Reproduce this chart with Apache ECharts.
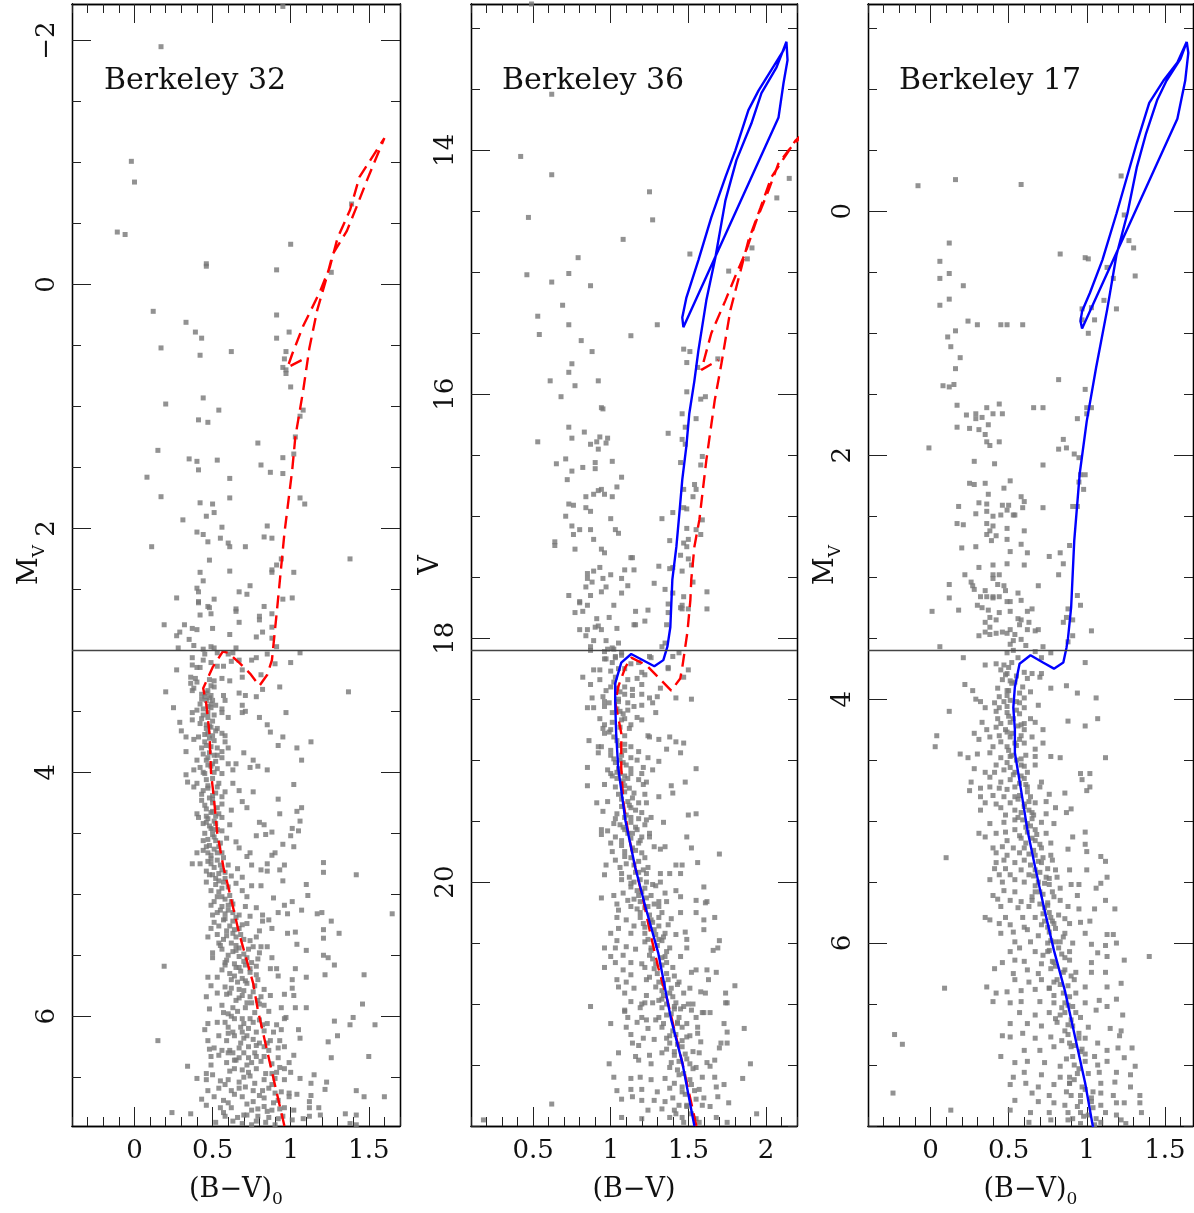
<!DOCTYPE html>
<html><head><meta charset="utf-8">
<script src="https://cdn.jsdelivr.net/npm/echarts@6/dist/echarts.min.js"></script>
<style>html,body{margin:0;padding:0;background:#fff}#c{width:1194px;height:1213px}</style>
</head><body><div id="c"></div>
<script>
// ---------------- DATA ----------------
const panelNames = ['Berkeley 32', 'Berkeley 36', 'Berkeley 17'];
const xRanges = [[-0.4, 1.7], [0.1, 2.2], [-0.4, 1.68]];
const yRanges = [[-2.3, 6.9], [12.8, 22.0], [-1.7, 7.5]];
const xMajorTicks = [[0, 0.5, 1, 1.5], [0.5, 1, 1.5, 2], [0, 0.5, 1, 1.5]];
const yMajorTicks = [[-2, 0, 2, 4, 6], [14, 16, 18, 20], [0, 2, 4, 6]];
const cutLines = [3.0, 18.1, 3.6];
const xAxisTitles = [['(B−V)', '0'], ['(B−V)', ''], ['(B−V)', '0']];
const yAxisTitles = [['M', 'V'], ['V', ''], ['M', 'V']];

// Berkeley 32 stars (B-V)0 , Mv
const ber32Stars = [
[0.95,-2.28],[0.17,-1.95],[-0.02,-1.01],[0.0,-0.84],[-0.11,-0.43],[-0.06,-0.41],[0.46,-0.17],[0.46,-0.15],[0.91,-0.12],[1.0,-0.33],[1.26,-0.10],[1.39,-0.66],
[0.12,0.22],[0.91,0.25],[0.33,0.31],[0.39,0.39],[0.43,0.44],[0.91,0.44],[0.99,0.39],[0.17,0.52],[0.42,0.58],[0.62,0.55],[0.97,0.55],[0.96,0.61],[0.95,0.68],[0.97,0.70],[0.97,0.73],[1.0,0.84],[0.44,0.93],[0.20,0.98],[0.54,1.03],[0.41,1.11],[0.47,1.13],[1.08,1.03],[1.06,1.08],[1.03,1.25],[0.79,1.30],[0.15,1.36],[0.35,1.43],[0.40,1.45],[0.53,1.44],[1.02,1.39],[0.95,1.42],[0.41,1.52],[0.81,1.48],[0.87,1.54],[0.95,1.55],[0.08,1.58],[0.61,1.59],[0.17,1.74],[0.61,1.75],[0.42,1.79],[0.50,1.80],[1.06,1.75],[1.09,1.80],[0.51,1.87],[0.46,1.90],[0.31,1.93],[0.56,1.99],[0.40,2.03],[0.44,2.05],[0.85,1.98],[0.83,2.07],[0.88,2.08],[0.55,2.08],[0.11,2.15],[0.47,2.11],[0.60,2.12],[0.61,2.15],[0.71,2.15],[1.38,2.25],[0.48,2.26],[0.94,2.25],[0.91,2.30],[0.42,2.36],[0.61,2.35],[0.88,2.34],[0.88,2.36],[1.02,2.36],[0.44,2.43],[0.74,2.47],[0.40,2.49],[0.41,2.52],[0.67,2.52],[0.72,2.54],[0.27,2.57],[0.41,2.60],[0.51,2.58],[0.95,2.58],[1.01,2.57],[0.47,2.64],[0.65,2.66],[0.83,2.64],
[0.41,2.61],[0.48,2.65],[0.65,2.68],[0.42,2.71],[0.49,2.70],[0.80,2.72],[0.88,2.70],[0.19,2.79],[0.32,2.79],[0.67,2.77],[0.80,2.75],[0.37,2.82],[0.40,2.83],[0.50,2.82],[0.88,2.81],[0.27,2.88],[0.29,2.85],[0.61,2.87],[0.78,2.89],[0.82,2.85],[0.35,2.91],[0.88,2.90],[0.38,2.96],[0.28,2.98],[0.44,2.99],[0.49,2.97],[0.51,2.98],[0.65,2.98],[0.91,2.97],
[1.06,3.02],[0.45,3.03],[0.53,3.02],[0.60,3.03],[0.63,3.02],[0.37,3.06],[0.44,3.08],[0.49,3.10],[0.62,3.09],[0.67,3.08],[0.75,3.08],[0.78,3.06],[0.85,3.03],[0.90,3.11],[1.0,3.10],[0.37,3.12],[0.40,3.14],[0.42,3.14],[0.27,3.16],[0.53,3.13],[0.57,3.13],[0.69,3.16],[0.36,3.22],[0.39,3.23],[0.48,3.24],[0.51,3.25],[0.56,3.23],[0.61,3.25],[0.69,3.22],[0.81,3.20],[0.36,3.27],[0.40,3.26],[0.49,3.29],[0.51,3.30],[0.37,3.33],[0.38,3.31],[0.47,3.33],[0.20,3.34],[0.82,3.32],[0.93,3.30],[1.37,3.34],[0.46,3.35],[0.49,3.37],[0.57,3.37],[0.67,3.35],[0.71,3.37],[0.78,3.38],[0.43,3.40],[0.46,3.41],[0.50,3.41],[0.58,3.41],[0.42,3.44],[0.49,3.44],[0.69,3.45],[0.25,3.47],[0.49,3.47],[0.56,3.48],[0.69,3.51],[0.71,3.50],[0.97,3.51],[0.37,3.51],[0.40,3.49],[0.47,3.51],[0.56,3.51],[0.60,3.55],[0.80,3.55],[0.37,3.57],[0.43,3.56],[0.46,3.61],[0.29,3.59],[0.85,3.61],[0.49,3.63],[0.53,3.64],[0.46,3.64],[0.87,3.67],[0.30,3.66],[0.47,3.68],[0.56,3.68],[0.95,3.71],[1.13,3.75],[0.33,3.71],[0.38,3.73],[0.41,3.71],[0.48,3.72],[0.58,3.70],[0.58,3.75],[0.46,3.78],[0.92,3.78],[1.04,3.80],[0.33,3.83],[0.53,3.80],[0.56,3.83],[0.60,3.80],[0.48,3.84],[0.53,3.86],[0.70,3.84],[0.56,3.88],[0.46,3.90],[0.76,3.90],[1.07,3.90],[0.40,3.90],[0.50,3.93],[0.60,3.93],[0.65,3.93],[0.38,3.98],[0.53,3.97],[0.63,3.98],[0.74,3.96],[0.79,3.95],[0.85,3.98],[0.33,4.02],[0.44,4.0],[0.56,4.01],[0.34,4.08],[0.40,4.09],[0.47,4.11],[0.54,4.09],[0.63,4.09],[1.02,4.10],[0.38,4.12],[0.44,4.15],[0.58,4.16],[0.67,4.15],[0.76,4.16],[0.50,4.19],[0.56,4.20],[0.69,4.24],[0.92,4.22],[0.43,4.23],[0.50,4.25],[0.56,4.26],[0.72,4.29],[1.07,4.29],[1.04,4.32],[0.40,4.34],[0.50,4.32],[0.54,4.34],[0.62,4.31],[0.93,4.34],[0.41,4.37],[0.47,4.38],[0.56,4.37],[0.80,4.41],[0.83,4.43],[1.06,4.40],[0.46,4.41],[0.52,4.42],[0.61,4.43],[0.49,4.46],[0.56,4.48],[0.88,4.49],[1.05,4.48],[1.01,4.46],[0.78,4.52],[0.84,4.51],[1.0,4.52],[0.44,4.56],[0.51,4.53],[0.59,4.54],[0.65,4.57],[0.95,4.59],[1.02,4.61],[0.46,4.61],[0.54,4.61],[0.67,4.62],[0.40,4.66],[0.47,4.66],[0.56,4.66],[0.74,4.66],[0.90,4.66],[0.88,4.68],[0.72,4.69],[0.49,4.71],[0.37,4.75],[0.42,4.75],[0.49,4.75],[0.60,4.76],[0.75,4.76],[0.85,4.75],[1.21,4.74],[0.96,4.76],[0.46,4.81],[0.56,4.80],[0.66,4.79],[0.81,4.80],[0.85,4.81],[0.93,4.80],[1.21,4.82],[1.42,4.84],[0.48,4.84],[0.62,4.85],[0.69,4.86],[0.54,4.89],[0.46,4.90],[0.95,4.89],[0.65,4.91],[0.75,4.93],[0.81,4.93],[1.10,4.92],[0.56,4.95],[0.69,4.97],[1.11,5.01],[0.53,5.02],[0.61,5.01],[0.72,5.02],[0.89,5.03],[0.49,5.09],[0.56,5.10],[0.63,5.08],[0.71,5.10],[0.78,5.11],[1.01,5.06],[0.96,5.09],[1.07,5.13],[0.92,5.15],[0.98,5.16],[1.17,5.16],[1.20,5.15],[1.65,5.16],[0.50,5.17],[0.58,5.16],[0.67,5.17],[0.74,5.18],[0.82,5.17],[0.86,5.21],[0.51,5.23],[0.63,5.22],[0.72,5.24],[0.82,5.22],[1.26,5.22],[0.49,5.28],[0.59,5.30],[0.67,5.28],[0.80,5.30],[0.88,5.28],[0.98,5.32],[1.03,5.31],[1.21,5.29],[1.31,5.32],[0.47,5.35],[0.53,5.33],[0.65,5.35],[0.74,5.38],[0.78,5.35],[1.21,5.36],[0.54,5.40],[0.65,5.42],[0.76,5.43],[0.81,5.43],[0.85,5.43],[1.04,5.41],[0.56,5.45],[0.65,5.46],[0.80,5.48],[1.10,5.46],[0.50,5.48],[0.50,5.52],[0.59,5.54],[0.67,5.51],[0.72,5.52],[0.79,5.53],[0.88,5.52],[1.21,5.50],[1.24,5.52],[0.19,5.59],[0.58,5.58],[0.65,5.60],[0.71,5.58],[0.78,5.59],[0.87,5.61],[0.91,5.61],[1.28,5.58],[1.03,5.61],[0.56,5.62],[0.47,5.68],[0.53,5.68],[0.64,5.67],[0.69,5.69],[0.78,5.66],[0.92,5.67],[1.10,5.68],[1.22,5.66],[1.47,5.66],[1.01,5.70],[0.49,5.75],[0.58,5.76],[0.67,5.78],[0.72,5.73],[0.83,5.78],[1.01,5.77],[0.53,5.81],[0.61,5.81],[0.87,5.83],[0.96,5.82],[1.02,5.83],[0.46,5.84],[0.67,5.85],[0.74,5.84],[0.79,5.87],[0.48,5.94],[0.56,5.91],[0.63,5.93],[0.83,5.91],[0.94,5.93],[1.03,5.93],[1.10,5.93],[1.46,5.90],[1.40,6.01],[0.97,6.01],[0.60,5.98],[0.69,6.02],[1.28,6.04],
[0.57,5.97],[0.71,5.93],[0.75,5.89],[0.47,6.06],[0.53,6.05],[0.58,6.05],[0.64,6.02],[0.70,6.06],[0.76,6.05],[0.85,6.06],[0.91,6.07],[0.96,6.02],[1.38,6.07],[1.54,6.07],[0.45,6.11],[0.60,6.14],[0.64,6.16],[0.69,6.13],[0.73,6.10],[0.78,6.13],[0.89,6.13],[0.94,6.11],[1.05,6.11],[1.30,6.16],[0.15,6.20],[0.47,6.20],[0.54,6.16],[0.59,6.20],[0.70,6.18],[0.87,6.20],[0.93,6.20],[1.06,6.18],[1.24,6.21],[0.48,6.27],[0.51,6.26],[0.56,6.28],[0.61,6.28],[0.67,6.26],[0.73,6.25],[0.78,6.24],[0.83,6.25],[0.92,6.26],[0.96,6.25],[0.49,6.33],[0.54,6.32],[0.60,6.30],[0.67,6.34],[0.73,6.34],[0.77,6.30],[0.83,6.33],[0.92,6.34],[1.02,6.32],[1.26,6.34],[1.50,6.33],[0.34,6.41],[0.49,6.40],[0.59,6.38],[0.64,6.36],[0.75,6.38],[0.88,6.39],[0.99,6.38],[0.46,6.47],[0.50,6.48],[0.64,6.43],[0.73,6.46],[0.78,6.43],[0.91,6.46],[0.96,6.43],[1.0,6.46],[1.15,6.48],[0.40,6.51],[0.46,6.52],[0.55,6.53],[0.60,6.52],[0.67,6.54],[0.70,6.50],[0.83,6.52],[0.90,6.51],[0.96,6.52],[1.06,6.51],[1.13,6.55],[1.23,6.54],[0.47,6.61],[0.54,6.59],[0.62,6.61],[0.67,6.59],[0.76,6.61],[0.86,6.59],[0.94,6.62],[0.99,6.63],[1.04,6.64],[1.13,6.65],[1.22,6.60],[1.42,6.61],[1.60,6.66],[0.43,6.68],[0.51,6.66],[0.57,6.69],[0.76,6.70],[0.83,6.67],[0.89,6.71],[0.99,6.66],[1.12,6.70],[1.47,6.66],[0.46,6.73],[0.62,6.75],[0.75,6.77],[0.83,6.74],[0.88,6.77],[0.96,6.75],[1.02,6.77],[1.12,6.75],[1.18,6.75],[0.24,6.79],[0.36,6.80],[0.57,6.79],[0.58,6.82],[0.70,6.81],[0.79,6.82],[0.86,6.83],[0.92,6.84],[1.01,6.85],[1.08,6.84],[1.12,6.82],[1.19,6.81],[1.35,6.80],[1.42,6.81],[0.75,6.89],[0.90,6.89],[1.38,6.88],[1.42,6.89]
];
// Berkeley 32: extra stars estimated in the crowded main-sequence band
const ber32StarsCore = [
[0.45,3.38],[0.47,3.46],[0.44,3.53],[0.50,3.58],[0.48,3.62],[0.45,3.69],[0.51,3.74],[0.49,3.79],[0.44,3.85],[0.47,3.88],[0.52,3.91],[0.49,3.95],[0.45,4.01],[0.50,4.05],[0.47,4.13],[0.52,4.17],[0.48,4.21],[0.45,4.27],[0.53,4.29],[0.49,4.33],[0.46,4.36],[0.51,4.40],[0.48,4.44],[0.53,4.47],[0.50,4.51],[0.47,4.55],[0.55,4.58],[0.51,4.63],[0.49,4.68],[0.53,4.72],[0.57,4.70],[0.51,4.78],[0.54,4.83],[0.58,4.82],[0.52,4.87],[0.57,4.90],[0.60,4.94],[0.54,4.98],[0.58,5.04],[0.62,5.06],[0.55,5.13],[0.60,5.13],[0.65,5.19],[0.57,5.21],[0.61,5.26],[0.69,5.25],[0.63,5.32],[0.57,5.37],[0.70,5.37],[0.62,5.40],[0.67,5.44],[0.73,5.45],[0.60,5.50],[0.70,5.55],[0.64,5.57],[0.75,5.56],[0.68,5.63],[0.61,5.65],[0.74,5.64],[0.79,5.70],[0.66,5.72],[0.70,5.79],[0.62,5.77],[0.76,5.80],[0.81,5.84],[0.65,5.87],[0.72,5.89],[0.77,5.97],[0.86,5.96],[0.62,6.0],[0.80,6.03],[0.68,6.09],[0.83,6.12],[0.72,6.16],[0.63,6.13],[0.80,6.22],[0.86,6.28],[0.70,6.30],[0.65,6.36],[0.81,6.37],[0.72,6.40],[0.93,6.42],[0.61,6.45],[0.84,6.47],[0.77,6.55],[0.71,6.58],[0.88,6.56],[0.64,6.64],[0.80,6.65],[0.92,6.69],[0.72,6.72],[0.55,6.75],[0.85,6.78],[0.66,6.83],[0.78,6.86],[0.95,6.82],[0.52,6.87],[0.69,6.88],
[0.43,3.36],[0.48,3.39],[0.52,3.45],[0.44,3.48],[0.47,3.55],[0.51,3.53],[0.42,3.60],[0.52,3.66],[0.45,3.75],[0.50,3.70],[0.43,3.80],[0.51,3.86],[0.47,3.94],[0.42,3.96],[0.51,4.00],[0.46,4.06],[0.53,4.12],[0.43,4.18],[0.50,4.22],[0.46,4.30],[0.52,4.36],[0.44,4.42],[0.50,4.47],[0.45,4.50],[0.52,4.56],[0.48,4.60],[0.44,4.64],[0.53,4.66],[0.47,4.73],[0.55,4.76],[0.50,4.84],[0.58,4.87],[0.52,4.92],[0.49,4.97],[0.56,5.02],[0.51,5.06],[0.60,5.09],[0.53,5.15],[0.63,5.15],[0.58,5.20],[0.54,5.26],[0.64,5.29],[0.59,5.34],[0.68,5.33],[0.55,5.42],[0.63,5.47],[0.70,5.49],[0.58,5.56],[0.67,5.60],[0.74,5.61],[0.62,5.70],[0.71,5.71],[0.77,5.75],[0.59,5.82],[0.69,5.83],[0.80,5.90],[0.66,5.96],[0.74,6.02],[0.82,6.07],[0.60,6.09],[0.76,6.19],[0.68,6.22],[0.85,6.22],[0.63,6.30],[0.78,6.33],[0.69,6.44],[0.88,6.47],[0.74,6.49],[0.58,6.56],[0.82,6.61],[0.69,6.66],[0.90,6.63],[0.60,6.71],[0.79,6.76],[0.93,6.76],[0.72,6.81],[0.63,6.86],[0.84,6.87]
];

// Berkeley 36 stars (B-V) , V
const ber36Stars = [
[0.49,12.80],[0.62,13.54],[0.42,14.05],[0.62,14.20],[1.25,14.34],[0.47,14.55],[1.27,14.57],[1.08,14.73],[1.51,14.85],[0.79,14.88],[2.15,14.23],[2.07,14.39],[1.91,14.80],[1.88,14.89],[1.76,14.99],[0.46,15.02],[0.73,15.01],[0.62,15.08],[0.87,15.11],[0.69,15.27],[0.53,15.36],[0.73,15.43],[1.30,15.43],[0.54,15.51],[1.13,15.52],[0.81,15.56],[0.88,15.65],[1.47,15.63],[1.51,15.65],[0.75,15.75],[1.49,15.74],[1.56,15.78],[1.69,15.71],[0.73,15.82],[0.61,15.89],[0.92,15.89],[0.77,15.93],[1.49,15.98],[0.68,16.02],[1.58,16.04],[1.61,16.02],[0.94,16.11],[0.95,16.12],[1.46,16.16],[1.55,16.20],
[0.73,16.27],[0.83,16.31],[1.37,16.32],[0.53,16.39],[0.75,16.36],[0.87,16.41],[0.91,16.39],[0.93,16.35],[0.98,16.36],[0.97,16.40],[0.92,16.45],[1.46,16.37],[1.48,16.27],[1.48,16.41],[0.71,16.53],[0.65,16.57],[0.82,16.60],[0.90,16.56],[0.90,16.61],[1.01,16.55],[1.45,16.56],[1.58,16.58],[1.59,16.51],[0.75,16.63],[1.07,16.68],[0.72,16.70],[1.04,16.76],[1.54,16.74],[1.55,16.78],[1.47,16.78],[0.92,16.79],[0.94,16.78],[0.89,16.82],[0.96,16.82],[0.84,16.84],[1.01,16.84],[1.53,16.84],[0.73,16.90],[0.76,16.91],[0.84,16.93],[0.87,16.96],[1.40,16.97],[1.47,16.93],[1.49,16.94],[0.71,17.00],[1.33,17.02],[1.0,17.02],[1.59,17.03],[0.75,17.08],[0.80,17.11],[0.87,17.11],[1.03,17.11],[1.05,17.14],[0.76,17.15],[1.49,17.10],[1.55,17.11],[1.58,17.15],[0.89,17.19],[1.38,17.20],[1.50,17.19],[0.64,17.21],[0.64,17.24],[1.47,17.22],[1.49,17.25],[0.77,17.27],[0.94,17.27],[0.96,17.30],[1.45,17.32],[1.13,17.34],[1.14,17.34],[1.50,17.35],[1.52,17.40],[0.93,17.42],[1.31,17.41],[1.40,17.42],[1.38,17.43],[1.09,17.44],[1.15,17.44],[0.89,17.45],[0.85,17.47],[1.46,17.45],[1.0,17.48],[0.85,17.51],[0.95,17.51],[1.07,17.51],[0.88,17.54],[1.28,17.55],[1.53,17.54],[1.11,17.57],[0.84,17.58],[0.97,17.58],[0.94,17.62],[1.35,17.60],[1.62,17.62],[0.73,17.65],[0.87,17.65],[1.07,17.63],[1.40,17.63],[1.47,17.66],[0.80,17.70],[1.37,17.72],[0.85,17.73],[1.02,17.73],[1.46,17.73],[1.46,17.76],[1.50,17.76],[1.62,17.76],[0.77,17.79],[0.82,17.78],[1.16,17.78],[1.24,17.77],[1.37,17.79],[0.91,17.84],[0.99,17.83],[1.22,17.86],[0.90,17.91],[0.92,17.90],[0.94,17.93],[1.04,17.92],[1.15,17.89],[1.16,17.89],[0.80,17.93],[0.85,17.93],[1.36,17.89],[0.84,17.98],[0.89,18.02],[0.97,18.02],[1.05,18.04],[1.35,18.04],[1.33,18.07],[0.87,18.10],[0.98,18.09],[1.01,18.08],[0.87,18.07],[1.45,17.75],[0.80,17.71],
[1.03,18.15],[1.07,18.14],[1.25,18.15],[1.40,18.15],[1.44,18.12],[0.97,18.17],[1.01,18.20],[1.13,18.21],[1.18,18.20],[1.37,18.24],
[0.96,18.11],[1.02,18.09],[1.07,18.12],[1.26,18.16],[0.96,18.17],[1.03,18.16],[1.05,18.25],[0.89,18.26],[0.93,18.26],[1.0,18.27],[1.09,18.25],[1.20,18.28],[1.37,18.25],[1.50,18.26],[0.82,18.32],[0.93,18.34],[1.03,18.32],[1.11,18.34],[1.17,18.33],[1.22,18.30],[1.47,18.32],[0.87,18.38],[0.97,18.43],[1.04,18.41],[1.09,18.40],[1.14,18.42],[1.20,18.38],[1.32,18.41],[1.09,18.46],[1.14,18.47],[1.20,18.46],[1.25,18.49],[1.30,18.48],[1.42,18.49],[1.52,18.50],[0.88,18.49],[0.95,18.48],[1.05,18.50],[0.96,18.52],[0.85,18.57],[0.89,18.57],[0.96,18.56],[1.11,18.53],[1.15,18.56],[1.20,18.55],[1.27,18.53],[1.29,18.61],[1.06,18.60],[1.11,18.59],[1.09,18.66],[1.17,18.65],[1.20,18.67],[0.93,18.66],[0.96,18.71],[0.95,18.74],[1.0,18.75],[1.13,18.71],[1.12,18.74],[0.96,18.78],[1.02,18.81],[1.09,18.80],[1.24,18.80],[1.25,18.81],[1.31,18.83],[1.38,18.81],[1.42,18.85],[1.47,18.86],[0.86,18.84],[0.92,18.89],[0.94,18.89],[1.09,18.87],[1.13,18.89],[1.18,18.93],[1.36,18.91],[0.92,18.94],[1.0,18.96],[1.07,18.96],[1.13,18.98],[1.24,18.98],[1.45,18.94],[1.03,19.02],[1.08,19.02],[1.17,19.0],[1.31,19.01],[0.85,19.06],[0.98,19.08],[1.05,19.07],[1.13,19.07],[1.21,19.06],[1.27,19.08],[1.55,19.07],[1.0,19.11],[1.06,19.11],[1.13,19.11],[1.20,19.11],[1.04,19.15],[1.11,19.15],[1.18,19.16],[1.23,19.18],[1.48,19.18],[0.85,19.21],[0.96,19.20],[1.09,19.21],[1.21,19.20],[1.39,19.21],[1.09,19.26],[1.15,19.27],[1.22,19.28],[1.40,19.27],[1.31,19.30],[0.91,19.35],[0.98,19.34],[1.11,19.34],[1.18,19.35],[1.23,19.35],[0.95,19.42],[1.13,19.39],[1.20,19.43],[1.50,19.45],[1.55,19.44],[1.03,19.48],[1.09,19.47],[1.18,19.48],[1.23,19.49],[1.26,19.47],[1.02,19.52],[1.13,19.51],[1.22,19.53],[1.34,19.51],[0.94,19.57],[0.98,19.58],[1.09,19.57],[1.17,19.57],[1.25,19.60],[0.94,19.61],[1.03,19.63],[1.13,19.64],[1.20,19.63],[1.25,19.63],[1.49,19.63],[1.0,19.68],[1.07,19.70],[1.18,19.68],[1.28,19.71],[1.35,19.71],[1.52,19.72],[1.01,19.75],[1.09,19.75],[1.20,19.76],[1.32,19.73],[1.70,19.77],[1.13,19.80],[1.22,19.80],[1.03,19.82],[1.56,19.84],[0.97,19.86],[1.06,19.88],[1.15,19.86],[1.24,19.88],[1.42,19.86],[1.46,19.86],[0.96,19.94],[1.07,19.93],[1.16,19.92],[1.23,19.93],[1.32,19.93],[1.38,19.93],[1.45,19.93],[1.07,19.98],[1.15,20.0],[1.23,20.0],[1.32,20.0],[1.13,20.04],[1.22,20.05],[1.29,20.03],[1.60,20.04],[0.94,20.13],[1.02,20.11],[1.08,20.09],[1.18,20.11],[1.26,20.11],[1.35,20.09],[1.42,20.07],[1.45,20.12],[1.11,20.15],[1.19,20.16],[1.31,20.16],[1.36,20.16],[1.55,20.15],[1.62,20.16],[1.04,20.18],[1.13,20.20],[1.22,20.21],[1.31,20.20],[1.61,20.17],[1.05,20.23],[1.19,20.25],[1.33,20.25],[1.45,20.25],[1.55,20.25],[1.67,20.29],[1.04,20.29],[1.10,20.31],[1.26,20.31],[1.39,20.30],[1.60,20.31],[1.05,20.38],[1.15,20.36],[1.22,20.37],[1.31,20.36],[1.37,20.35],[1.60,20.39],[1.0,20.42],[1.13,20.42],[1.29,20.43],[1.35,20.42],[1.42,20.43],[1.48,20.41],[1.04,20.48],[1.22,20.49],[1.33,20.48],[1.49,20.47],[1.70,20.48],[0.96,20.54],[1.03,20.54],[1.10,20.53],[1.16,20.55],[1.26,20.54],[1.38,20.54],[1.49,20.54],[1.66,20.56],[1.69,20.54],[1.0,20.61],[1.08,20.60],[1.25,20.60],[1.35,20.61],[1.45,20.61],[1.03,20.66],[1.13,20.66],[1.20,20.67],[1.29,20.67],[1.36,20.66],[0.96,20.70],[1.08,20.72],[1.22,20.70],[1.52,20.74],[1.55,20.72],[1.62,20.72],[1.68,20.74],[1.13,20.76],[1.25,20.78],[1.41,20.77],[1.04,20.80],[1.10,20.82],[1.23,20.80],[1.34,20.83],[1.44,20.82],[1.63,20.80],[1.80,20.85],[1.05,20.86],[1.15,20.87],[1.29,20.86],[1.39,20.87],[1.51,20.87],[1.58,20.90],[1.61,20.91],[1.74,20.91],[1.09,20.91],[1.23,20.93],[1.34,20.93],[1.47,20.91],[1.13,20.98],[1.22,20.99],[1.31,20.97],[1.42,20.99],[1.50,21.0],[1.74,20.99],[0.87,21.02],[1.09,21.05],[1.19,21.03],[1.33,21.03],[1.52,21.05],[1.60,21.07],[1.64,21.07],[1.11,21.11],[1.20,21.11],[1.31,21.11],[1.44,21.11],[1.55,21.11],
[1.20,21.0],[1.27,20.99],[1.41,21.02],[1.47,21.02],[1.53,21.0],[1.59,21.07],[1.75,20.99],[1.09,21.06],[1.17,21.15],[1.23,21.13],[1.29,21.13],[1.0,21.16],[1.10,21.19],[1.24,21.20],[1.33,21.19],[1.43,21.15],[1.49,21.16],[1.56,21.19],[1.73,21.16],[1.75,21.23],[1.86,21.20],[1.13,21.25],[1.21,21.28],[1.28,21.29],[1.36,21.28],[1.42,21.25],[1.49,21.27],[1.56,21.24],[1.14,21.32],[1.18,21.34],[1.38,21.32],[1.46,21.35],[1.58,21.31],[1.71,21.32],[1.75,21.32],[1.05,21.40],[1.16,21.43],[1.25,21.42],[1.33,21.40],[1.41,21.42],[1.53,21.39],[1.57,21.40],[1.70,21.36],[1.18,21.46],[1.39,21.48],[1.51,21.49],[1.62,21.48],[1.67,21.46],[0.99,21.49],[1.26,21.49],[1.38,21.52],[1.55,21.52],[1.64,21.51],[1.90,21.49],[1.02,21.60],[1.13,21.61],[1.19,21.60],[1.26,21.62],[1.35,21.61],[1.44,21.58],[1.59,21.60],[1.67,21.60],[1.85,21.61],[1.73,21.66],[1.04,21.71],[1.13,21.70],[1.20,21.70],[1.30,21.72],[1.38,21.69],[1.46,21.72],[1.57,21.70],[1.68,21.68],[1.07,21.78],[1.14,21.76],[1.20,21.79],[1.28,21.79],[1.35,21.80],[1.40,21.77],[1.60,21.77],[1.69,21.76],[0.62,21.82],[1.76,21.81],[1.24,21.87],[1.33,21.86],[1.41,21.87],[1.49,21.84],[1.59,21.83],[1.64,21.84],[1.07,21.93],[1.20,21.94],[1.38,21.93],[1.46,21.93],[1.57,21.97],[1.68,21.93],[1.75,21.97],[1.94,21.90],[0.18,21.95]
];
// Berkeley 36: extra stars estimated in the crowded main-sequence band
const ber36StarsCore = [
[1.02,18.36],[1.06,18.44],[0.99,18.53],[1.04,18.58],[1.08,18.62],[1.01,18.69],[1.06,18.73],[1.04,18.84],[1.09,18.92],[1.02,18.99],[1.10,19.04],[1.04,19.10],[1.08,19.17],[1.12,19.23],[1.05,19.28],[1.14,19.31],[1.07,19.38],[1.16,19.41],[1.10,19.45],[1.06,19.53],[1.16,19.55],[1.11,19.60],[1.19,19.66],[1.14,19.72],[1.09,19.79],[1.18,19.83],[1.21,19.90],[1.12,19.96],[1.19,19.98],[1.27,20.02],[1.17,20.07],[1.23,20.13],[1.28,20.18],[1.17,20.22],[1.25,20.27],[1.31,20.29],[1.21,20.34],[1.28,20.39],[1.34,20.45],[1.24,20.47],[1.30,20.52],[1.36,20.57],[1.27,20.63],[1.33,20.68],[1.40,20.70],[1.30,20.75],[1.37,20.80],[1.43,20.84],[1.33,20.89],[1.40,20.94],[1.36,21.0],[1.45,21.04],[1.39,21.08],[1.34,21.16],[1.46,21.19],[1.40,21.22],[1.51,21.26],[1.43,21.33],[1.36,21.37],[1.48,21.41],[1.44,21.47],[1.53,21.53],[1.47,21.57],[1.41,21.65],[1.52,21.66],[1.48,21.74],[1.55,21.78],[1.44,21.83],[1.52,21.90],[1.47,21.97],
[1.00,18.40],[1.05,18.52],[1.01,18.61],[1.07,18.67],[0.99,18.77],[1.05,18.88],[1.00,18.92],[1.06,19.00],[1.01,19.13],[1.09,19.13],[1.03,19.22],[1.07,19.32],[1.12,19.37],[1.04,19.44],[1.13,19.47],[1.08,19.55],[1.14,19.60],[1.07,19.66],[1.16,19.74],[1.10,19.85],[1.18,19.92],[1.13,20.01],[1.20,20.08],[1.15,20.14],[1.24,20.20],[1.19,20.29],[1.27,20.33],[1.22,20.42],[1.31,20.47],[1.26,20.56],[1.33,20.62],[1.28,20.71],[1.36,20.75],[1.31,20.82],[1.38,20.91],[1.33,20.96],[1.41,21.04],[1.36,21.09],[1.43,21.16],[1.38,21.26],[1.46,21.30],[1.41,21.39],[1.49,21.45],[1.43,21.54],[1.51,21.62],[1.46,21.68],[1.54,21.71],[1.49,21.83],[1.42,21.90],[1.55,21.94]
];

// Berkeley 17 stars (B-V)0 , Mv
const ber17Stars = [
[-0.08,-0.21],[0.16,-0.26],[0.58,-0.22],[1.22,-0.29],[1.24,0.03],[1.27,0.24],[1.30,0.30],[1.31,0.53],[0.83,0.35],[0.99,0.38],[1.01,0.39],[1.13,0.46],[1.17,0.55],[1.11,0.73],[1.19,0.80],[1.05,0.89],[1.01,1.0],[0.97,0.80],[0.97,0.89],[1.03,0.79],
[0.12,0.26],[0.06,0.41],[0.06,0.55],[0.12,0.51],[0.21,0.61],[0.12,0.72],[0.06,0.77],[0.24,0.90],[0.30,0.93],[0.45,0.93],[0.49,0.93],[0.59,0.93],[0.16,0.98],[0.11,1.03],[0.13,1.11],[0.19,1.20],[0.16,1.29],[0.82,1.38],[0.08,1.43],[0.12,1.44],[0.15,1.42],[0.99,1.46],[0.17,1.59],[0.44,1.58],[0.66,1.61],[0.72,1.61],[1.0,1.61],[1.03,1.61],[0.23,1.67],[0.29,1.66],[0.36,1.61],[0.40,1.66],[0.46,1.66],[0.33,1.69],[0.29,1.70],[0.94,1.70],[1.0,1.66],
[0.17,1.77],[0.25,1.78],[0.31,1.79],[0.37,1.75],[0.35,1.83],[0.36,1.89],[0.44,1.89],[0.38,1.92],[-0.01,1.94],[0.85,1.87],[0.82,1.95],[0.87,1.94],[0.92,1.99],[0.95,2.02],[0.28,2.05],[0.41,2.07],[0.72,2.08],[0.96,2.16],[0.99,2.16],[0.95,2.22],[0.98,2.28],[0.25,2.23],[0.28,2.24],[0.35,2.23],[0.51,2.21],[0.47,2.27],[0.37,2.32],[0.58,2.34],[0.60,2.38],[0.18,2.42],[0.31,2.39],[0.36,2.40],[0.46,2.41],[0.50,2.41],[0.49,2.45],[0.59,2.43],[0.72,2.43],[0.91,2.42],[0.94,2.42],[0.36,2.46],[0.29,2.48],[0.40,2.50],[0.45,2.49],[0.53,2.49],[0.54,2.49],[0.17,2.56],[0.21,2.57],[0.36,2.56],[0.40,2.58],[0.49,2.60],[0.38,2.62],[0.60,2.62],[0.36,2.65],[0.42,2.66],[0.49,2.69],[0.39,2.70],[0.20,2.76],[0.29,2.75],[0.51,2.79],[0.58,2.73],[0.62,2.80],[0.76,2.83],[0.83,2.80],[0.89,2.74],[0.85,2.89],[0.82,2.98],[0.49,2.89],[0.40,2.90],[0.60,2.90],[0.31,2.92],[0.22,2.98],[0.40,2.98],[0.44,2.98],[0.40,3.01],[0.26,3.04],[0.27,3.07],[0.28,3.10],[0.12,3.06],[0.12,3.17],[0.43,3.06],[0.47,3.07],[0.48,3.11],[0.35,3.11],[0.69,3.07],[0.94,3.15],[0.96,3.23],[0.56,3.13],[0.32,3.16],[0.36,3.16],[0.40,3.16],[0.44,3.16],[0.40,3.17],[0.49,3.20],[0.51,3.20],[0.58,3.19],[0.01,3.28],[0.18,3.27],[0.30,3.23],[0.33,3.25],[0.37,3.27],[0.44,3.29],[0.51,3.28],[0.62,3.28],[0.65,3.26],[0.88,3.26],[0.38,3.33],[0.42,3.35],[0.35,3.37],[0.56,3.34],[0.58,3.35],[0.63,3.37],[0.57,3.39],[0.87,3.33],[0.85,3.37],[0.91,3.35],[0.38,3.41],[0.35,3.45],[0.42,3.46],[0.46,3.45],[0.49,3.46],[0.51,3.43],[0.54,3.47],[0.62,3.43],[0.67,3.44],[0.69,3.43],[1.03,3.44],[0.31,3.48],[0.38,3.47],[0.53,3.52],[0.58,3.51],[0.91,3.48],[0.06,3.57],[0.51,3.55],[0.61,3.56],[0.72,3.57],[0.88,3.53],
[0.21,3.66],[0.35,3.72],[0.42,3.71],[0.47,3.72],[0.49,3.62],[0.53,3.60],[0.56,3.66],[0.67,3.61],[0.71,3.66],[0.77,3.62],[0.99,3.70],[0.45,3.76],[0.49,3.79],[0.60,3.78],[0.65,3.79],[0.71,3.79],[0.46,3.84],[0.51,3.85],[0.62,3.83],[0.70,3.82],[0.22,3.88],[0.87,3.89],[0.77,3.91],[0.43,3.91],[0.49,3.93],[0.59,3.90],[0.64,3.94],[0.27,3.93],[0.94,3.95],[0.44,3.98],[0.49,3.97],[0.60,3.99],[0.29,4.0],[1.06,3.99],[0.32,4.02],[0.41,4.03],[0.47,4.02],[0.57,4.03],[0.69,4.05],[0.35,4.07],[0.44,4.07],[0.60,4.07],[0.12,4.10],[0.42,4.10],[0.49,4.11],[0.57,4.12],[0.64,4.16],[0.43,4.16],[0.88,4.18],[1.07,4.16],[0.33,4.19],[0.45,4.20],[0.51,4.19],[0.60,4.20],[0.67,4.19],[0.99,4.22],[0.36,4.25],[0.42,4.23],[0.48,4.25],[0.60,4.25],[0.72,4.25],[0.28,4.28],[0.04,4.30],[0.38,4.31],[0.44,4.30],[0.51,4.31],[0.58,4.30],[0.65,4.31],[0.31,4.33],[0.45,4.35],[0.54,4.36],[0.60,4.36],[0.72,4.36],[0.03,4.39],[0.40,4.39],[0.49,4.39],[0.67,4.41],[0.19,4.45],[0.24,4.48],[0.30,4.45],[0.38,4.44],[0.45,4.48],[0.51,4.47],[0.61,4.46],[0.67,4.47],[0.77,4.47],[0.83,4.48],[1.12,4.48],[0.42,4.54],[0.49,4.52],[0.58,4.54],[0.67,4.54],[0.28,4.57],[0.35,4.60],[0.41,4.60],[0.47,4.58],[0.54,4.60],[0.62,4.60],[0.96,4.61],[1.02,4.61],[0.38,4.64],[0.45,4.68],[0.51,4.66],[0.60,4.65],[0.71,4.68],[0.97,4.66],[0.26,4.68],[0.25,4.75],[0.32,4.73],[0.38,4.72],[0.44,4.73],[0.49,4.74],[0.62,4.72],[0.70,4.72],[1.02,4.72],[1.0,4.75],[0.32,4.80],[0.40,4.79],[0.47,4.80],[0.54,4.80],[0.64,4.80],[0.76,4.78],[0.86,4.77],[0.35,4.85],[0.42,4.86],[0.51,4.85],[0.60,4.86],[0.67,4.85],[0.74,4.84],[0.32,4.91],[0.45,4.89],[0.54,4.91],[0.63,4.91],[0.80,4.89],[0.87,4.93],[0.90,4.90],[0.48,4.95],[0.56,4.97],[0.65,4.93],[0.74,4.94],[0.47,5.01],[0.54,4.99],[0.62,5.02],[0.71,5.01],[0.79,5.02],[0.31,5.10],[0.38,5.02],[0.42,5.10],[0.48,5.09],[0.54,5.07],[0.62,5.09],[0.67,5.07],[0.74,5.10],[0.99,5.09],[0.35,5.13],[0.49,5.16],[0.58,5.14],[0.67,5.16],[0.77,5.18],[0.91,5.13],[0.99,5.19],[0.40,5.22],[0.46,5.21],[0.53,5.22],[0.60,5.22],[0.71,5.22],[0.88,5.23],[1.0,5.25],[0.42,5.26],[0.49,5.28],[0.57,5.26],[0.67,5.28],[0.77,5.28],[0.10,5.30],[1.09,5.29],[1.12,5.33],[0.42,5.34],[0.47,5.32],[0.54,5.34],[0.60,5.32],[0.71,5.34],[0.78,5.32],[0.41,5.39],[0.48,5.39],[0.58,5.40],[0.67,5.40],[0.75,5.39],[0.80,5.40],[0.89,5.40],[1.0,5.40],[0.44,5.44],[0.51,5.44],[0.63,5.44],[0.74,5.46],[0.81,5.46],[1.13,5.46],[0.38,5.48],[0.46,5.50],[0.54,5.48],[0.60,5.50],[0.69,5.50],[0.76,5.52],[0.83,5.55],[0.90,5.52],[0.95,5.52],[1.06,5.55],[1.09,5.51],[0.40,5.61],[0.47,5.57],[0.54,5.58],[0.67,5.58],[0.78,5.58],[0.94,5.61],[0.43,5.64],[0.51,5.65],[0.58,5.66],[0.65,5.65],[0.75,5.67],[0.83,5.65],[1.12,5.65],[0.45,5.70],[0.56,5.71],[0.63,5.70],[0.73,5.71],[0.88,5.70],[0.95,5.72],[1.05,5.72],[1.18,5.72],[0.35,5.79],[0.38,5.81],[0.48,5.79],[0.59,5.79],[0.67,5.79],[0.77,5.79],[0.86,5.80],[1.02,5.82],[0.44,5.84],[0.51,5.85],[0.60,5.87],[0.71,5.85],[0.79,5.84],[0.89,5.84],[0.96,5.83],[0.45,5.92],[0.53,5.91],[0.62,5.89],[0.76,5.91],[0.86,5.92],[0.99,5.92],[1.13,5.93],[1.17,5.93],[0.54,5.99],[0.64,5.99],[0.75,6.0],[0.83,5.99],[0.91,6.0],[1.03,6.01],[1.12,6.02],[1.19,6.0],[0.51,6.07],[0.57,6.04],[0.67,6.07],[0.75,6.07],[0.89,6.07],[1.07,6.08],[1.13,6.11],[1.40,6.11],[0.46,6.16],[0.54,6.14],[0.60,6.15],[0.71,6.17],[0.79,6.16],[0.89,6.14],[1.03,6.16],[1.24,6.14],[0.41,6.21],[0.53,6.25],[0.62,6.22],[0.69,6.25],[0.77,6.21],[0.86,6.22],[0.93,6.24],[1.03,6.24],[1.12,6.24],[0.54,6.30],[0.63,6.32],[0.71,6.30],[0.79,6.32],[0.92,6.30],[0.99,6.36],[1.13,6.36],[1.22,6.33],[0.09,6.37],[0.36,6.36],[0.42,6.41],[0.40,6.48],[0.49,6.40],[0.58,6.39],[0.67,6.38],[0.76,6.37],[0.85,6.41],[0.93,6.41],[1.08,6.47],[1.19,6.46],[0.51,6.49],[0.58,6.48],[0.70,6.48],[0.79,6.49],[0.88,6.51],[0.99,6.49],[1.06,6.55],[1.13,6.52],[1.23,6.59],[0.57,6.57],[0.67,6.59],[0.76,6.57],[0.86,6.57],[0.96,6.61],[0.51,6.66],[0.62,6.66],[0.71,6.68],[0.81,6.65],[0.91,6.68],[1.01,6.69],[1.15,6.70],[1.22,6.72],[-0.23,6.75],[-0.18,6.83],[0.46,6.76],[0.51,6.77],[0.59,6.74],[0.67,6.78],[0.77,6.77],[0.88,6.75],[0.99,6.78],[1.07,6.82],[1.21,6.76],[0.45,6.93],[0.60,6.88],[0.70,6.88],[0.79,6.85],[0.90,6.85],[0.96,6.89],[1.05,6.93],[1.13,6.88],[1.20,6.86],[1.29,6.86],[1.24,6.94],[1.31,7.01],[0.54,6.98],[0.62,6.97],[0.73,6.98],[0.83,7.01],[0.92,7.0],[1.07,7.0],[1.13,6.97],[1.19,7.06],[1.28,7.08],[0.53,7.10],[0.60,7.06],[0.71,7.08],[0.83,7.10],[0.89,7.10],[1.08,7.06],[0.51,7.16],[0.61,7.15],[0.69,7.18],[0.79,7.16],[0.89,7.15],[1.09,7.15],[1.18,7.14],[1.28,7.18],[-0.24,7.23],[0.65,7.23],[0.76,7.25],[0.90,7.25],[0.96,7.25],[1.09,7.23],[1.17,7.25],[1.34,7.25],[0.54,7.29],[0.69,7.30],[0.79,7.31],[0.86,7.33],[1.03,7.30],[1.09,7.33],[1.19,7.31],[1.24,7.31],[1.34,7.31],[0.13,7.37],[0.51,7.37],[0.64,7.39],[0.76,7.39],[0.88,7.39],[0.96,7.39],[1.12,7.39],[1.19,7.41],[1.35,7.39],[0.63,7.47],[0.77,7.45],[0.88,7.45],[0.96,7.48],[1.09,7.47],[1.22,7.45],[1.25,7.48]
];
// Berkeley 17: extra stars estimated in the crowded main-sequence band
const ber17StarsCore = [
[0.50,3.74],[0.55,3.81],[0.52,3.87],[0.57,3.95],[0.51,4.01],[0.55,4.09],[0.50,4.14],[0.56,4.22],[0.52,4.28],[0.57,4.33],[0.50,4.42],[0.55,4.50],[0.60,4.55],[0.53,4.62],[0.57,4.69],[0.62,4.76],[0.56,4.82],[0.60,4.88],[0.66,4.95],[0.59,4.99],[0.64,5.04],[0.68,5.11],[0.61,5.18],[0.66,5.24],[0.72,5.30],[0.64,5.36],[0.70,5.42],[0.76,5.47],[0.67,5.53],[0.72,5.60],[0.79,5.62],[0.70,5.68],[0.76,5.75],[0.82,5.77],[0.73,5.82],[0.80,5.88],[0.85,5.95],[0.77,5.98],[0.82,6.04],[0.72,6.10],[0.86,6.12],[0.80,6.19],[0.90,6.27],[0.83,6.34],[0.76,6.37],[0.89,6.44],[0.84,6.53],[0.93,6.57],[0.80,6.62],[0.88,6.67],[0.95,6.74],[0.84,6.80],[0.92,6.84],[0.99,6.91],[0.87,6.95],[0.95,7.03],[1.01,7.07],[0.92,7.12],[0.99,7.20],[0.87,7.22],[1.03,7.27],[0.94,7.34],[1.01,7.41],[0.91,7.44],[1.05,7.49],
[0.52,3.70],[0.48,3.80],[0.54,3.86],[0.50,3.93],[0.55,4.02],[0.49,4.06],[0.53,4.16],[0.58,4.21],[0.49,4.27],[0.55,4.38],[0.52,4.46],[0.58,4.49],[0.51,4.56],[0.58,4.63],[0.54,4.72],[0.61,4.70],[0.57,4.79],[0.63,4.84],[0.58,4.93],[0.65,4.98],[0.61,5.05],[0.57,5.12],[0.65,5.14],[0.70,5.19],[0.63,5.27],[0.69,5.33],[0.66,5.45],[0.73,5.51],[0.70,5.58],[0.65,5.62],[0.75,5.69],[0.72,5.76],[0.78,5.82],[0.75,5.87],[0.69,5.94],[0.80,5.99],[0.76,6.06],[0.84,6.09],[0.78,6.15],[0.85,6.24],[0.81,6.30],[0.88,6.35],[0.79,6.43],[0.86,6.49],[0.91,6.52],[0.83,6.59],[0.90,6.63],[0.86,6.72],[0.95,6.78],[0.89,6.82],[0.97,6.87],[0.91,6.93],[0.99,6.97],[0.94,7.07],[0.89,7.15],[0.97,7.18],[1.04,7.22],[0.96,7.30],[1.04,7.35],[0.98,7.42],[1.06,7.44]
];

// Isochrones
const ber32IsoRed = [
[0.96,6.9],[0.87,6.4],[0.79,5.95],[0.76,5.73],[0.67,5.32],[0.61,4.99],[0.57,4.78],[0.53,4.5],[0.51,4.23],[0.49,4.0],[0.48,3.68],[0.46,3.44],[0.44,3.31],[0.50,3.14],[0.565,3.01],[0.60,3.02],[0.67,3.1],[0.74,3.19],[0.80,3.29],[0.85,3.2],[0.88,3.08],[0.91,2.70],[0.92,2.57],[0.96,2.04],[1.01,1.52],[1.03,1.25],[1.08,0.87],[1.12,0.52],[1.17,0.21],[1.22,-0.01],[1.27,-0.25],[1.36,-0.44],[1.42,-0.63],[1.49,-0.86],[1.60,-1.20],
[1.44,-0.88],[1.38,-0.61],[1.30,-0.38],[1.25,-0.14],[1.19,0.05],[1.13,0.21],[1.08,0.34],[1.01,0.57],[0.98,0.68],[1.07,0.62]
];
const ber36IsoRed = [
[1.552,22.0],[1.461,21.48],[1.365,20.97],[1.306,20.70],[1.255,20.42],[1.21,20.15],[1.158,19.88],[1.113,19.60],[1.08,19.33],[1.068,19.06],[1.068,18.78],[1.03,18.53],[1.048,18.40],[1.094,18.24],[1.132,18.16],[1.229,18.22],[1.39,18.43],[1.448,18.33],[1.461,18.24],[1.494,17.95],[1.513,17.69],[1.519,17.52],[1.539,17.25],[1.571,17.03],[1.616,16.54],[1.67,16.05],[1.713,15.75],[1.771,15.31],[1.842,14.96],[1.887,14.74],[1.965,14.47],[2.035,14.22],[2.19,13.92],[2.26,13.84],
[2.145,14.0],[2.08,14.11],[2.016,14.33],[1.94,14.57],[1.868,14.84],[1.80,15.04],[1.739,15.23],[1.648,15.50],[1.584,15.80],[1.694,15.72]
];
const ber36IsoBlue = [
[1.539,22.0],[1.461,21.48],[1.39,21.13],[1.365,20.97],[1.306,20.58],[1.223,20.20],[1.158,19.88],[1.094,19.49],[1.048,19.06],[1.035,18.78],[1.029,18.53],[1.029,18.37],[1.068,18.20],[1.132,18.13],[1.281,18.23],[1.339,18.18],[1.365,18.07],[1.384,17.91],[1.397,17.52],[1.423,17.25],[1.442,16.98],[1.461,16.70],[1.487,16.43],[1.506,16.16],[1.539,15.89],[1.565,15.64],[1.616,15.23],[1.674,14.88],[1.739,14.41],[1.81,14.08],[1.906,13.78],[1.971,13.53],[2.068,13.32],[2.132,13.11],
[2.139,13.26],[2.113,13.45],[2.081,13.73],[1.468,15.45],[1.461,15.37],[1.474,15.29],[1.487,15.21],[1.565,14.90],[1.648,14.55],[1.739,14.22],[1.803,14.0],[1.887,13.67],[1.952,13.51],[2.035,13.34],[2.113,13.18],[2.132,13.11]
];
const ber17IsoBlue = [
[1.04,7.51],[0.99,7.15],[0.92,6.74],[0.86,6.39],[0.79,6.06],[0.73,5.73],[0.67,5.38],[0.62,5.07],[0.58,4.75],[0.54,4.44],[0.54,4.25],[0.53,4.07],[0.54,3.90],[0.57,3.71],[0.64,3.64],[0.72,3.70],[0.79,3.75],[0.85,3.70],[0.87,3.58],[0.88,3.50],[0.90,3.25],[0.92,2.70],[0.955,2.15],[1.0,1.72],[1.06,1.28],[1.13,0.81],[1.19,0.36],[1.26,0.02],[1.32,-0.36],[1.38,-0.64],[1.45,-0.91],[1.51,-1.07],[1.60,-1.25],[1.64,-1.39],
[1.65,-1.30],[1.63,-1.07],[1.58,-0.76],[0.97,0.96],[0.96,0.90],[0.97,0.82],[1.02,0.67],[1.10,0.40],[1.19,0.02],[1.32,-0.56],[1.40,-0.89],[1.49,-1.07],[1.58,-1.22],[1.64,-1.39]
];

// ---------------- CHART ----------------
const FONT = 'DejaVu Serif';
const TXT = '#111';
const grids = [
  {left: 72, top: 4, width: 328, height: 1122},
  {left: 471, top: 4, width: 326, height: 1122},
  {left: 868, top: 4, width: 325, height: 1122}
];
function steps(a, b, step) {
  const out = [];
  for (let i = Math.ceil(a / step - 1e-9); i * step <= b + 1e-9; i++) out.push(+(i * step).toFixed(3));
  return out;
}
const fmt = v => (v < 0 ? '−' + Math.abs(v) : String(v));
const lineSty = {color: '#000', width: 1.3};
const tickSty = {color: '#222', width: 1};
const nameRich = {
  a: {fontFamily: FONT, fontSize: 27, lineHeight: 36, color: TXT},
  b: {fontFamily: FONT, fontSize: 17, lineHeight: 14, verticalAlign: 'bottom', color: TXT}
};

const xAxes = [], yAxes = [];
for (let g = 0; g < 3; g++) {
  const [x0, x1] = xRanges[g], [y0, y1] = yRanges[g];
  const xMin = steps(x0, x1, 0.1), yMin = steps(y0, y1, 0.5);
  const base = {type: 'value', gridIndex: g, splitLine: {show: false}, silent: true,
    axisLine: {show: true, onZero: false, lineStyle: lineSty}};
  const xb = {...base, min: x0, max: x1};
  const yb = {...base, min: y0, max: y1, inverse: true};
  const xt = xAxisTitles[g];
  xAxes.push({...xb, position: 'bottom',
    axisTick: {show: true, inside: true, length: 19, customValues: xMajorTicks[g], lineStyle: tickSty},
    axisLabel: {show: true, customValues: xMajorTicks[g], margin: 12, fontFamily: FONT, fontSize: 26, color: TXT, formatter: fmt},
    name: xt[1] ? '{a|' + xt[0] + '}{b|' + xt[1] + '}' : '{a|' + xt[0] + '}',
    nameLocation: 'middle', nameGap: 46, nameMoveOverlap: false,
    nameTextStyle: {rich: nameRich}
  });
  xAxes.push({...xb, position: 'bottom', axisTick: {show: true, inside: true, length: 9, customValues: xMin, lineStyle: tickSty}, axisLabel: {show: false}});
  xAxes.push({...xb, position: 'top', axisTick: {show: true, inside: true, length: 19, customValues: xMajorTicks[g], lineStyle: tickSty}, axisLabel: {show: false}});
  xAxes.push({...xb, position: 'top', axisTick: {show: true, inside: true, length: 9, customValues: xMin, lineStyle: tickSty}, axisLabel: {show: false}});
  const yt = yAxisTitles[g];
  yAxes.push({...yb, position: 'left',
    axisTick: {show: true, inside: true, length: 19, customValues: yMajorTicks[g], lineStyle: tickSty},
    axisLabel: {show: true, customValues: yMajorTicks[g], margin: 12, rotate: 90, fontFamily: FONT, fontSize: 26, color: TXT, formatter: fmt},
    name: yt[1] ? '{a|' + yt[0] + '}{b|' + yt[1] + '}' : '{a|' + yt[0] + '}',
    nameLocation: 'middle', nameGap: [24, 22, 24][g], nameMoveOverlap: false,
    nameTextStyle: {rich: nameRich}
  });
  yAxes.push({...yb, position: 'left', axisTick: {show: true, inside: true, length: 9, customValues: yMin, lineStyle: tickSty}, axisLabel: {show: false}});
  yAxes.push({...yb, position: 'right', axisTick: {show: true, inside: true, length: 19, customValues: yMajorTicks[g], lineStyle: tickSty}, axisLabel: {show: false}});
  yAxes.push({...yb, position: 'right', axisTick: {show: true, inside: true, length: 9, customValues: yMin, lineStyle: tickSty}, axisLabel: {show: false}});
}

const starSets = [ber32Stars.concat(ber32StarsCore), ber36Stars.concat(ber36StarsCore), ber17Stars.concat(ber17StarsCore)];
const series = [];
starSets.forEach((d, g) => {
  series.push({type: 'scatter', xAxisIndex: 4 * g, yAxisIndex: 4 * g, data: d, symbol: 'rect', symbolSize: 5,
    itemStyle: {color: '#777'}, silent: true, z: 2,
    markLine: {silent: true, symbol: 'none', label: {show: false}, lineStyle: {color: '#444', width: 1.3, type: 'solid'},
      data: [{yAxis: cutLines[g]}]}});
});
function iso(g, data, color, dashed) {
  return {type: 'line', xAxisIndex: 4 * g, yAxisIndex: 4 * g, data, showSymbol: false, symbol: 'none', silent: true, z: 3,
    lineStyle: {color, width: 2.4, type: dashed ? [13, 7] : 'solid'}, clip: true};
}
series.push(iso(0, ber32IsoRed, '#ff0000', true));
series.push(iso(1, ber36IsoRed, '#ff0000', true));
series.push(iso(1, ber36IsoBlue, '#0000ff', false));
series.push(iso(2, ber17IsoBlue, '#0000ff', false));

const chart = echarts.init(document.getElementById('c'), null, {renderer: 'canvas'});
chart.setOption({
  animation: false,
  backgroundColor: '#fff',
  title: panelNames.map((t, i) => ({text: t, left: [104, 502, 899][i], top: 66, padding: 0,
    textStyle: {fontFamily: FONT, fontSize: 30, fontWeight: 'normal', color: TXT}})),
  grid: grids,
  xAxis: xAxes,
  yAxis: yAxes,
  series
});
</script>
</body></html>
